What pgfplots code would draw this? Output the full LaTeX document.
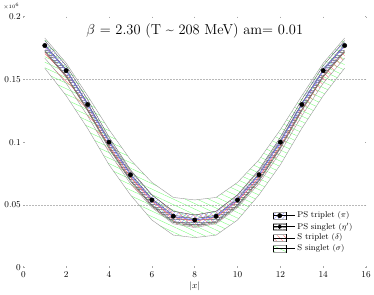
\documentclass[border=0pt]{standalone}
\usepackage{pgfplots}
\pgfplotsset{compat=1.18}
\usepackage{pgfplotstable}
\usepgfplotslibrary{fillbetween}
\usetikzlibrary{patterns,patterns.meta}

\pgfplotstableread{
x   v     alo   ahi   b     blo   bhi   c     clo   chi   d     dlo   dhi
1   0.177 0.173 0.181 0.175 0.172 0.178 0.172 0.167 0.177 0.171 0.159 0.183
2   0.157 0.153 0.161 0.155 0.152 0.158 0.152 0.147 0.157 0.150 0.137 0.163
3   0.130 0.126 0.134 0.128 0.125 0.131 0.126 0.121 0.131 0.124 0.111 0.137
4   0.100 0.096 0.104 0.098 0.095 0.101 0.097 0.092 0.102 0.096 0.082 0.110
5   0.074 0.070 0.078 0.072 0.069 0.075 0.072 0.067 0.077 0.072 0.058 0.086
6   0.054 0.050 0.058 0.052 0.049 0.055 0.053 0.048 0.058 0.053 0.038 0.068
7   0.041 0.037 0.045 0.039 0.036 0.042 0.040 0.035 0.045 0.041 0.026 0.056
8   0.038 0.034 0.042 0.036 0.033 0.039 0.037 0.032 0.042 0.039 0.024 0.054
9   0.041 0.037 0.045 0.039 0.036 0.042 0.040 0.035 0.045 0.041 0.026 0.056
10  0.054 0.050 0.058 0.052 0.049 0.055 0.053 0.048 0.058 0.053 0.038 0.068
11  0.074 0.070 0.078 0.072 0.069 0.075 0.072 0.067 0.077 0.072 0.058 0.086
12  0.100 0.096 0.104 0.098 0.095 0.101 0.097 0.092 0.102 0.096 0.082 0.110
13  0.130 0.126 0.134 0.128 0.125 0.131 0.126 0.121 0.131 0.124 0.111 0.137
14  0.157 0.153 0.161 0.155 0.152 0.158 0.152 0.147 0.157 0.150 0.137 0.163
15  0.177 0.173 0.181 0.175 0.172 0.178 0.172 0.167 0.177 0.171 0.159 0.183
}\data

\tikzset{
  gpat/.style={pattern={Lines[angle=-25, distance=5pt, line width=0.35pt]}, pattern color=green!55},
  rpat/.style={pattern={Lines[angle=-45, distance=4.5pt, line width=0.35pt]}, pattern color=red!55},
  kpat/.style={pattern={Lines[angle=0, distance=2.5pt, line width=0.3pt]}, pattern color=black!45},
  bpat/.style={pattern={Lines[angle=45, distance=3pt, line width=0.35pt]}, pattern color=blue!45},
}

\begin{document}
\begin{tikzpicture}
\begin{axis}[
  scale only axis,
  width=344pt, height=252pt,
  xmin=0, xmax=16, ymin=0, ymax=0.2,
  axis line style={draw=none},
  xtick={0,2,...,16},
  ytick={0,0.05,0.1,0.15,0.2},
  yticklabels={0,0.05,0.1,0.15,0.2},
  major tick length=1.5pt,
  tick style={gray!70, line width=0.6pt},
  ticklabel style={font=\fontsize{9}{10}\selectfont},
  yticklabel style={xshift=1pt},
  extra y ticks={0.05,0.15},
  extra y tick labels={},
  extra y tick style={grid=major, major grid style={gray!55, line width=0.5pt, dash pattern=on 2pt off 1pt}},
  xlabel={$|x|$},
  xlabel style={font=\fontsize{9}{10}\selectfont, yshift=2pt},
  title={$\beta$ = 2.30 (T \textasciitilde{} 208 MeV) am= 0.01},
  title style={at={(0.5,0.875)}, anchor=south, font=\fontsize{14.5}{16}\selectfont},
  legend style={draw=none, fill=none, at={(0.725,0.235)}, anchor=north west,
    font=\fontsize{8.5}{10}\selectfont, row sep=-0.5pt, inner sep=1pt},
  legend cell align=left,
  clip=false,
]
\addlegendimage{legend image code/.code={
  \fill[bpat] (0pt,-3.5pt) rectangle (13pt,3.5pt);
  \draw[gray!70, line width=0.3pt] (0pt,-3.5pt)--(13pt,-3.5pt) (0pt,3.5pt)--(13pt,3.5pt);
  \fill[black] (6.5pt,0pt) circle (2.2pt);
  \path (0pt,0pt) -- (22pt,0pt);}}
\addlegendentry{PS triplet $(\pi)$}
\addlegendimage{legend image code/.code={
  \fill[kpat] (0pt,-3.5pt) rectangle (13pt,3.5pt);
  \draw[gray!70, line width=0.3pt] (0pt,-3.5pt)--(13pt,-3.5pt) (0pt,3.5pt)--(13pt,3.5pt);
  \fill[black] (6.5pt,-2pt)--(8.5pt,0pt)--(6.5pt,2pt)--(4.5pt,0pt)--cycle;
  \path (0pt,0pt) -- (22pt,0pt);}}
\addlegendentry{PS singlet $(\eta')$}
\addlegendimage{legend image code/.code={
  \fill[rpat] (0pt,-3.5pt) rectangle (13pt,3.5pt);
  \draw[gray!70, line width=0.3pt] (0pt,-3.5pt)--(13pt,-3.5pt) (0pt,3.5pt)--(13pt,3.5pt);
  \draw[red!60, line width=0.4pt] (0pt,0pt)--(13pt,0pt);
  \path (0pt,0pt) -- (22pt,0pt);}}
\addlegendentry{S triplet $(\delta)$}
\addlegendimage{legend image code/.code={
  \fill[gpat] (0pt,-3.5pt) rectangle (13pt,3.5pt);
  \draw[gray!70, line width=0.3pt] (0pt,-3.5pt)--(13pt,-3.5pt) (0pt,3.5pt)--(13pt,3.5pt);
  \path (0pt,0pt) -- (22pt,0pt);}}
\addlegendentry{S singlet $(\sigma)$}

% S singlet (green)
\addplot[name path=dlo, gray!80, line width=0.4pt, forget plot] table[x=x,y=dlo]{\data};
\addplot[name path=dhi, gray!80, line width=0.4pt, forget plot] table[x=x,y=dhi]{\data};
\addplot[gpat, draw=none, forget plot] fill between[of=dlo and dhi];
% S triplet (red)
\addplot[name path=clo, gray!80, line width=0.4pt, forget plot] table[x=x,y=clo]{\data};
\addplot[name path=chi, gray!80, line width=0.4pt, forget plot] table[x=x,y=chi]{\data};
\addplot[rpat, draw=none, forget plot] fill between[of=clo and chi];
\addplot[red!60, line width=0.4pt, forget plot] table[x=x,y=c]{\data};
% PS singlet (black)
\addplot[name path=blo, gray!80!black, line width=0.4pt, forget plot] table[x=x,y=blo]{\data};
\addplot[name path=bhi, gray!80!black, line width=0.4pt, forget plot] table[x=x,y=bhi]{\data};
\addplot[kpat, draw=none, forget plot] fill between[of=blo and bhi];
% PS triplet (blue)
\addplot[name path=alo, gray!80!black, line width=0.4pt, forget plot] table[x=x,y=alo]{\data};
\addplot[name path=ahi, gray!80!black, line width=0.4pt, forget plot] table[x=x,y=ahi]{\data};
\addplot[bpat, draw=none, forget plot] fill between[of=alo and ahi];
\addplot[blue!60, line width=0.4pt, forget plot] table[x=x,y=v]{\data};
\addplot[only marks, mark=*, mark size=2.2pt, black, forget plot] table[x=x,y=v]{\data};

\node[font=\fontsize{5}{6}\selectfont, anchor=south] at (rel axis cs:-0.035,1.015) {$\times10^{6}$};
\end{axis}
\end{tikzpicture}
\end{document}
